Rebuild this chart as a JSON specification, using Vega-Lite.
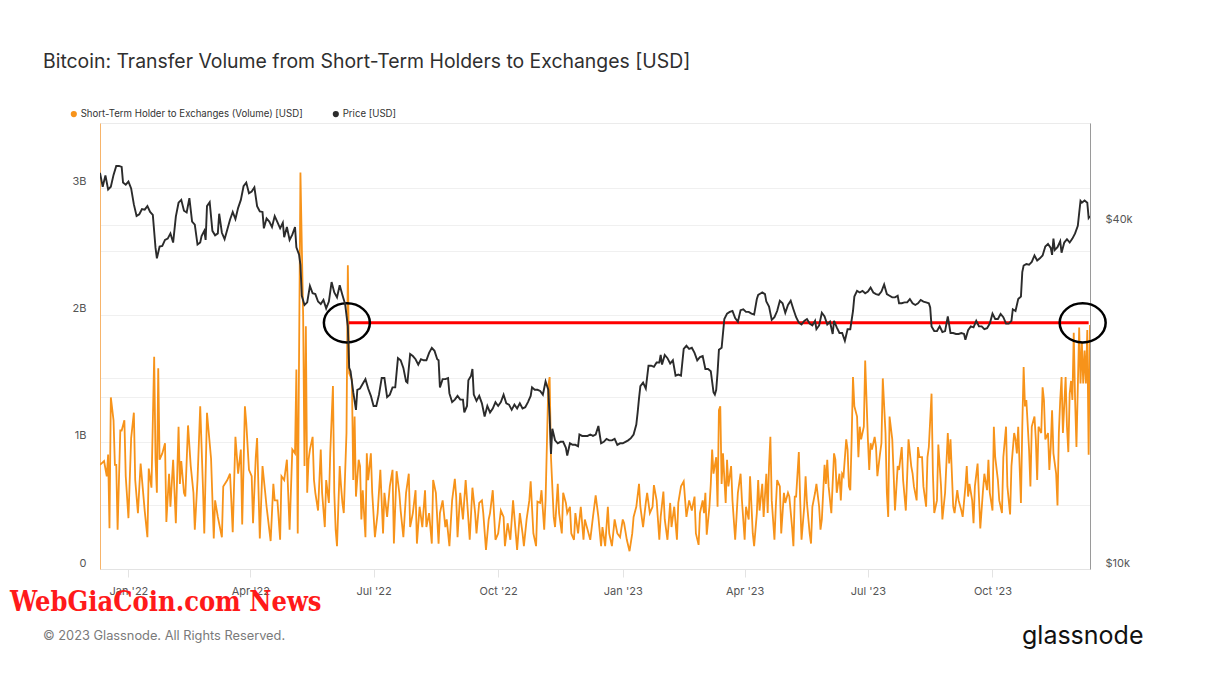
{
"$schema": "https://vega.github.io/schema/vega-lite/v6.json",
"width": 990, "height": 446,
"autosize": "none",
"padding": {"left": 100, "top": 123, "right": 127, "bottom": 115},
"background": "white",
"config": {"view": {"stroke": "#ebebeb"}, "font": "Inter"},
"title": {"text": "Bitcoin: Transfer Volume from Short-Term Holders to Exchanges [USD]", "anchor": "start", "frame": "group", "dx": -57, "offset": 37, "fontSize": 19.4, "fontWeight": 400, "color": "#2f2f2f", "font": "Inter"},
"datasets": {
"vol": [
{"d":"2021-12-11","v":0.82},{"d":"2021-12-12","v":0.83},{"d":"2021-12-14","v":0.85},{"d":"2021-12-16","v":0.73},{"d":"2021-12-17","v":0.90},{"d":"2021-12-18","v":0.32},{"d":"2021-12-19","v":1.35},{"d":"2021-12-21","v":1.17},{"d":"2021-12-22","v":0.82},{"d":"2021-12-23","v":0.82},{"d":"2021-12-24","v":0.31},{"d":"2021-12-26","v":1.09},{"d":"2021-12-27","v":1.09},{"d":"2021-12-29","v":1.17},{"d":"2021-12-30","v":0.73},
{"d":"2022-01-01","v":0.40},{"d":"2022-01-03","v":1.03},{"d":"2022-01-05","v":1.23},{"d":"2022-01-06","v":0.70},{"d":"2022-01-08","v":0.44},{"d":"2022-01-10","v":0.83},{"d":"2022-01-13","v":0.46},{"d":"2022-01-15","v":0.25},{"d":"2022-01-16","v":0.79},{"d":"2022-01-18","v":0.64},{"d":"2022-01-20","v":1.67},{"d":"2022-01-21","v":0.86},{"d":"2022-01-22","v":0.60},{"d":"2022-01-23","v":1.58},{"d":"2022-01-24","v":0.86},{"d":"2022-01-26","v":0.91},{"d":"2022-01-28","v":0.99},{"d":"2022-01-29","v":0.37},{"d":"2022-01-31","v":0.75},
{"d":"2022-02-01","v":0.49},{"d":"2022-02-03","v":0.86},{"d":"2022-02-05","v":0.36},{"d":"2022-02-07","v":1.12},{"d":"2022-02-08","v":0.67},{"d":"2022-02-09","v":0.85},{"d":"2022-02-11","v":0.60},{"d":"2022-02-12","v":0.57},{"d":"2022-02-14","v":1.13},{"d":"2022-02-16","v":0.81},{"d":"2022-02-18","v":0.60},{"d":"2022-02-19","v":0.31},{"d":"2022-02-21","v":0.70},{"d":"2022-02-23","v":1.28},{"d":"2022-02-25","v":0.65},{"d":"2022-02-26","v":0.28},{"d":"2022-02-28","v":1.23},
{"d":"2022-03-02","v":0.99},{"d":"2022-03-03","v":0.87},{"d":"2022-03-05","v":0.24},{"d":"2022-03-06","v":0.54},{"d":"2022-03-08","v":0.41},{"d":"2022-03-11","v":0.25},{"d":"2022-03-12","v":0.65},{"d":"2022-03-15","v":0.70},{"d":"2022-03-17","v":0.75},{"d":"2022-03-18","v":0.53},{"d":"2022-03-19","v":0.29},{"d":"2022-03-21","v":1.04},{"d":"2022-03-23","v":0.75},{"d":"2022-03-25","v":0.94},{"d":"2022-03-26","v":0.35},{"d":"2022-03-28","v":1.28},{"d":"2022-03-29","v":1.15},{"d":"2022-03-31","v":0.78},
{"d":"2022-04-02","v":0.73},{"d":"2022-04-03","v":0.36},{"d":"2022-04-05","v":0.88},{"d":"2022-04-06","v":1.03},{"d":"2022-04-08","v":0.24},{"d":"2022-04-10","v":0.81},{"d":"2022-04-12","v":0.60},{"d":"2022-04-13","v":0.49},{"d":"2022-04-16","v":0.22},{"d":"2022-04-18","v":0.67},{"d":"2022-04-19","v":0.54},{"d":"2022-04-21","v":0.54},{"d":"2022-04-23","v":0.23},{"d":"2022-04-24","v":0.73},{"d":"2022-04-26","v":0.70},{"d":"2022-04-28","v":0.86},{"d":"2022-04-30","v":0.31},
{"d":"2022-05-02","v":0.94},{"d":"2022-05-04","v":0.91},{"d":"2022-05-05","v":1.57},{"d":"2022-05-06","v":0.28},{"d":"2022-05-08","v":3.12},{"d":"2022-05-10","v":1.99},{"d":"2022-05-11","v":0.81},{"d":"2022-05-12","v":1.91},{"d":"2022-05-13","v":0.60},{"d":"2022-05-14","v":0.86},{"d":"2022-05-15","v":0.94},{"d":"2022-05-17","v":1.04},{"d":"2022-05-18","v":0.70},{"d":"2022-05-19","v":0.60},{"d":"2022-05-21","v":0.46},{"d":"2022-05-23","v":0.94},{"d":"2022-05-24","v":0.60},{"d":"2022-05-26","v":0.33},{"d":"2022-05-27","v":0.70},{"d":"2022-05-29","v":0.52},{"d":"2022-05-30","v":0.91},
{"d":"2022-06-01","v":1.44},{"d":"2022-06-02","v":0.60},{"d":"2022-06-03","v":0.31},{"d":"2022-06-04","v":0.18},{"d":"2022-06-06","v":0.81},{"d":"2022-06-07","v":0.65},{"d":"2022-06-08","v":0.52},{"d":"2022-06-09","v":0.44},{"d":"2022-06-11","v":1.07},{"d":"2022-06-12","v":2.39},{"d":"2022-06-13","v":1.54},{"d":"2022-06-15","v":1.49},{"d":"2022-06-16","v":0.70},{"d":"2022-06-17","v":1.20},{"d":"2022-06-18","v":0.57},{"d":"2022-06-20","v":0.86},{"d":"2022-06-21","v":0.81},{"d":"2022-06-22","v":0.39},{"d":"2022-06-23","v":0.62},{"d":"2022-06-25","v":0.25},{"d":"2022-06-26","v":0.91},{"d":"2022-06-27","v":0.70},{"d":"2022-06-29","v":0.91},{"d":"2022-06-30","v":0.60},
{"d":"2022-07-02","v":0.25},{"d":"2022-07-04","v":0.44},{"d":"2022-07-06","v":0.78},{"d":"2022-07-08","v":0.28},{"d":"2022-07-09","v":0.60},{"d":"2022-07-11","v":0.41},{"d":"2022-07-13","v":0.65},{"d":"2022-07-15","v":0.78},{"d":"2022-07-16","v":0.20},{"d":"2022-07-18","v":0.77},{"d":"2022-07-20","v":0.60},{"d":"2022-07-21","v":0.46},{"d":"2022-07-23","v":0.25},{"d":"2022-07-25","v":0.60},{"d":"2022-07-27","v":0.75},{"d":"2022-07-28","v":0.33},{"d":"2022-07-30","v":0.44},
{"d":"2022-08-01","v":0.62},{"d":"2022-08-02","v":0.20},{"d":"2022-08-04","v":0.49},{"d":"2022-08-06","v":0.33},{"d":"2022-08-08","v":0.62},{"d":"2022-08-09","v":0.33},{"d":"2022-08-11","v":0.44},{"d":"2022-08-13","v":0.20},{"d":"2022-08-14","v":0.70},{"d":"2022-08-16","v":0.60},{"d":"2022-08-18","v":0.20},{"d":"2022-08-19","v":0.44},{"d":"2022-08-21","v":0.54},{"d":"2022-08-23","v":0.33},{"d":"2022-08-24","v":0.39},{"d":"2022-08-26","v":0.18},{"d":"2022-08-28","v":0.54},{"d":"2022-08-30","v":0.71},{"d":"2022-08-31","v":0.57},
{"d":"2022-09-01","v":0.25},{"d":"2022-09-03","v":0.60},{"d":"2022-09-05","v":0.39},{"d":"2022-09-07","v":0.70},{"d":"2022-09-09","v":0.39},{"d":"2022-09-10","v":0.23},{"d":"2022-09-12","v":0.64},{"d":"2022-09-14","v":0.44},{"d":"2022-09-15","v":0.28},{"d":"2022-09-17","v":0.52},{"d":"2022-09-19","v":0.54},{"d":"2022-09-20","v":0.44},{"d":"2022-09-22","v":0.15},{"d":"2022-09-24","v":0.39},{"d":"2022-09-25","v":0.44},{"d":"2022-09-27","v":0.62},{"d":"2022-09-29","v":0.23},
{"d":"2022-10-01","v":0.28},{"d":"2022-10-03","v":0.46},{"d":"2022-10-05","v":0.41},{"d":"2022-10-06","v":0.18},{"d":"2022-10-08","v":0.36},{"d":"2022-10-10","v":0.23},{"d":"2022-10-12","v":0.54},{"d":"2022-10-14","v":0.28},{"d":"2022-10-15","v":0.15},{"d":"2022-10-17","v":0.44},{"d":"2022-10-19","v":0.28},{"d":"2022-10-20","v":0.18},{"d":"2022-10-22","v":0.39},{"d":"2022-10-24","v":0.54},{"d":"2022-10-25","v":0.69},{"d":"2022-10-27","v":0.28},{"d":"2022-10-29","v":0.18},{"d":"2022-10-30","v":0.53},
{"d":"2022-11-01","v":0.52},{"d":"2022-11-02","v":0.62},{"d":"2022-11-04","v":0.31},{"d":"2022-11-05","v":0.54},{"d":"2022-11-06","v":0.99},{"d":"2022-11-07","v":1.44},{"d":"2022-11-08","v":1.51},{"d":"2022-11-09","v":0.88},{"d":"2022-11-11","v":0.41},{"d":"2022-11-12","v":0.33},{"d":"2022-11-14","v":0.67},{"d":"2022-11-15","v":0.44},{"d":"2022-11-17","v":0.28},{"d":"2022-11-18","v":0.60},{"d":"2022-11-20","v":0.52},{"d":"2022-11-21","v":0.44},{"d":"2022-11-23","v":0.49},{"d":"2022-11-24","v":0.28},{"d":"2022-11-26","v":0.23},{"d":"2022-11-27","v":0.44},{"d":"2022-11-29","v":0.28},
{"d":"2022-12-01","v":0.49},{"d":"2022-12-03","v":0.23},{"d":"2022-12-04","v":0.39},{"d":"2022-12-06","v":0.31},{"d":"2022-12-08","v":0.23},{"d":"2022-12-10","v":0.41},{"d":"2022-12-12","v":0.58},{"d":"2022-12-14","v":0.41},{"d":"2022-12-16","v":0.18},{"d":"2022-12-17","v":0.33},{"d":"2022-12-19","v":0.18},{"d":"2022-12-21","v":0.49},{"d":"2022-12-22","v":0.28},{"d":"2022-12-24","v":0.18},{"d":"2022-12-26","v":0.39},{"d":"2022-12-28","v":0.28},{"d":"2022-12-30","v":0.25},
{"d":"2023-01-01","v":0.39},{"d":"2023-01-02","v":0.36},{"d":"2023-01-04","v":0.23},{"d":"2023-01-06","v":0.14},{"d":"2023-01-08","v":0.28},{"d":"2023-01-09","v":0.41},{"d":"2023-01-11","v":0.49},{"d":"2023-01-13","v":0.67},{"d":"2023-01-14","v":0.49},{"d":"2023-01-16","v":0.33},{"d":"2023-01-18","v":0.52},{"d":"2023-01-19","v":0.60},{"d":"2023-01-21","v":0.44},{"d":"2023-01-23","v":0.49},{"d":"2023-01-24","v":0.66},{"d":"2023-01-26","v":0.54},{"d":"2023-01-28","v":0.23},{"d":"2023-01-29","v":0.41},{"d":"2023-01-31","v":0.61},
{"d":"2023-02-01","v":0.39},{"d":"2023-02-03","v":0.23},{"d":"2023-02-05","v":0.52},{"d":"2023-02-06","v":0.33},{"d":"2023-02-08","v":0.49},{"d":"2023-02-10","v":0.23},{"d":"2023-02-11","v":0.52},{"d":"2023-02-13","v":0.65},{"d":"2023-02-15","v":0.69},{"d":"2023-02-17","v":0.41},{"d":"2023-02-19","v":0.54},{"d":"2023-02-21","v":0.46},{"d":"2023-02-23","v":0.57},{"d":"2023-02-24","v":0.28},{"d":"2023-02-26","v":0.19},{"d":"2023-02-27","v":0.44},
{"d":"2023-03-01","v":0.54},{"d":"2023-03-02","v":0.44},{"d":"2023-03-03","v":0.60},{"d":"2023-03-04","v":0.27},{"d":"2023-03-06","v":0.49},{"d":"2023-03-07","v":0.67},{"d":"2023-03-08","v":0.94},{"d":"2023-03-09","v":0.75},{"d":"2023-03-11","v":0.88},{"d":"2023-03-12","v":0.49},{"d":"2023-03-13","v":1.25},{"d":"2023-03-14","v":1.28},{"d":"2023-03-15","v":0.67},{"d":"2023-03-16","v":0.91},{"d":"2023-03-18","v":0.52},{"d":"2023-03-19","v":0.86},{"d":"2023-03-20","v":0.65},{"d":"2023-03-22","v":0.81},{"d":"2023-03-23","v":0.54},{"d":"2023-03-25","v":0.23},{"d":"2023-03-26","v":0.41},{"d":"2023-03-27","v":0.60},{"d":"2023-03-29","v":0.75},{"d":"2023-03-30","v":0.54},
{"d":"2023-04-01","v":0.23},{"d":"2023-04-02","v":0.49},{"d":"2023-04-04","v":0.39},{"d":"2023-04-05","v":0.73},{"d":"2023-04-07","v":0.28},{"d":"2023-04-08","v":0.18},{"d":"2023-04-10","v":0.44},{"d":"2023-04-11","v":0.70},{"d":"2023-04-12","v":0.46},{"d":"2023-04-14","v":0.67},{"d":"2023-04-15","v":0.41},{"d":"2023-04-17","v":0.75},{"d":"2023-04-18","v":0.44},{"d":"2023-04-19","v":0.81},{"d":"2023-04-20","v":1.04},{"d":"2023-04-21","v":0.54},{"d":"2023-04-23","v":0.23},{"d":"2023-04-24","v":0.49},{"d":"2023-04-25","v":0.70},{"d":"2023-04-27","v":0.65},{"d":"2023-04-28","v":0.28},{"d":"2023-04-30","v":0.60},
{"d":"2023-05-01","v":0.52},{"d":"2023-05-03","v":0.60},{"d":"2023-05-04","v":0.57},{"d":"2023-05-06","v":0.33},{"d":"2023-05-07","v":0.18},{"d":"2023-05-08","v":0.57},{"d":"2023-05-09","v":0.57},{"d":"2023-05-11","v":0.92},{"d":"2023-05-12","v":0.54},{"d":"2023-05-13","v":0.23},{"d":"2023-05-15","v":0.49},{"d":"2023-05-16","v":0.73},{"d":"2023-05-17","v":0.52},{"d":"2023-05-19","v":0.28},{"d":"2023-05-20","v":0.20},{"d":"2023-05-21","v":0.49},{"d":"2023-05-23","v":0.60},{"d":"2023-05-24","v":0.67},{"d":"2023-05-26","v":0.49},{"d":"2023-05-27","v":0.31},{"d":"2023-05-28","v":0.39},{"d":"2023-05-30","v":0.82},{"d":"2023-05-31","v":0.67},
{"d":"2023-06-01","v":0.86},{"d":"2023-06-02","v":0.65},{"d":"2023-06-04","v":0.44},{"d":"2023-06-06","v":0.91},{"d":"2023-06-07","v":0.86},{"d":"2023-06-08","v":0.60},{"d":"2023-06-10","v":0.75},{"d":"2023-06-11","v":0.54},{"d":"2023-06-12","v":0.75},{"d":"2023-06-13","v":0.73},{"d":"2023-06-15","v":1.02},{"d":"2023-06-16","v":0.94},{"d":"2023-06-17","v":0.65},{"d":"2023-06-18","v":0.62},{"d":"2023-06-19","v":1.02},{"d":"2023-06-20","v":1.51},{"d":"2023-06-21","v":1.28},{"d":"2023-06-23","v":1.20},{"d":"2023-06-24","v":0.88},{"d":"2023-06-25","v":1.12},{"d":"2023-06-26","v":1.02},{"d":"2023-06-28","v":1.12},{"d":"2023-06-29","v":1.64},
{"d":"2023-07-01","v":1.02},{"d":"2023-07-02","v":0.78},{"d":"2023-07-03","v":0.99},{"d":"2023-07-04","v":0.94},{"d":"2023-07-06","v":1.04},{"d":"2023-07-07","v":0.96},{"d":"2023-07-08","v":0.73},{"d":"2023-07-10","v":0.91},{"d":"2023-07-11","v":0.99},{"d":"2023-07-12","v":1.50},{"d":"2023-07-14","v":1.07},{"d":"2023-07-15","v":0.60},{"d":"2023-07-16","v":0.41},{"d":"2023-07-17","v":1.20},{"d":"2023-07-19","v":1.02},{"d":"2023-07-20","v":0.75},{"d":"2023-07-21","v":0.46},{"d":"2023-07-23","v":0.81},{"d":"2023-07-24","v":0.78},{"d":"2023-07-26","v":0.96},{"d":"2023-07-27","v":0.70},{"d":"2023-07-29","v":0.46},{"d":"2023-07-30","v":0.73},{"d":"2023-07-31","v":1.02},
{"d":"2023-08-02","v":0.81},{"d":"2023-08-03","v":0.75},{"d":"2023-08-04","v":0.65},{"d":"2023-08-06","v":0.54},{"d":"2023-08-07","v":0.96},{"d":"2023-08-08","v":0.88},{"d":"2023-08-10","v":0.88},{"d":"2023-08-11","v":0.65},{"d":"2023-08-13","v":0.49},{"d":"2023-08-14","v":0.88},{"d":"2023-08-15","v":0.96},{"d":"2023-08-17","v":1.38},{"d":"2023-08-18","v":0.75},{"d":"2023-08-19","v":0.44},{"d":"2023-08-21","v":0.54},{"d":"2023-08-22","v":0.98},{"d":"2023-08-24","v":0.65},{"d":"2023-08-25","v":0.39},{"d":"2023-08-27","v":0.60},{"d":"2023-08-29","v":1.07},{"d":"2023-08-30","v":0.83},{"d":"2023-08-31","v":1.02},
{"d":"2023-09-02","v":0.49},{"d":"2023-09-03","v":0.44},{"d":"2023-09-05","v":0.62},{"d":"2023-09-06","v":0.54},{"d":"2023-09-08","v":0.46},{"d":"2023-09-09","v":0.41},{"d":"2023-09-11","v":0.65},{"d":"2023-09-12","v":0.81},{"d":"2023-09-13","v":0.57},{"d":"2023-09-14","v":0.67},{"d":"2023-09-16","v":0.54},{"d":"2023-09-17","v":0.36},{"d":"2023-09-18","v":0.65},{"d":"2023-09-20","v":0.83},{"d":"2023-09-21","v":0.57},{"d":"2023-09-22","v":0.32},{"d":"2023-09-24","v":0.62},{"d":"2023-09-25","v":0.75},{"d":"2023-09-27","v":0.62},{"d":"2023-09-28","v":0.86},{"d":"2023-09-29","v":0.60},
{"d":"2023-10-01","v":0.46},{"d":"2023-10-02","v":1.12},{"d":"2023-10-03","v":0.88},{"d":"2023-10-05","v":0.70},{"d":"2023-10-06","v":0.54},{"d":"2023-10-08","v":0.44},{"d":"2023-10-09","v":0.88},{"d":"2023-10-11","v":1.12},{"d":"2023-10-12","v":0.65},{"d":"2023-10-14","v":0.43},{"d":"2023-10-15","v":0.81},{"d":"2023-10-17","v":1.07},{"d":"2023-10-18","v":1.02},{"d":"2023-10-19","v":0.91},{"d":"2023-10-20","v":1.12},{"d":"2023-10-22","v":0.52},{"d":"2023-10-23","v":1.12},{"d":"2023-10-24","v":1.59},{"d":"2023-10-25","v":1.28},{"d":"2023-10-26","v":1.33},{"d":"2023-10-28","v":0.94},{"d":"2023-10-29","v":0.65},{"d":"2023-10-30","v":1.12},
{"d":"2023-11-01","v":1.20},{"d":"2023-11-02","v":1.02},{"d":"2023-11-03","v":0.70},{"d":"2023-11-04","v":1.12},{"d":"2023-11-06","v":1.07},{"d":"2023-11-07","v":1.43},{"d":"2023-11-08","v":1.33},{"d":"2023-11-09","v":1.02},{"d":"2023-11-11","v":1.07},{"d":"2023-11-12","v":0.78},{"d":"2023-11-13","v":0.96},{"d":"2023-11-14","v":1.25},{"d":"2023-11-15","v":0.91},{"d":"2023-11-17","v":0.75},{"d":"2023-11-18","v":0.50},{"d":"2023-11-19","v":1.07},{"d":"2023-11-20","v":1.33},{"d":"2023-11-21","v":1.51},{"d":"2023-11-22","v":1.07},{"d":"2023-11-24","v":1.51},{"d":"2023-11-25","v":1.12},{"d":"2023-11-26","v":0.92},{"d":"2023-11-27","v":1.38},{"d":"2023-11-28","v":1.48},{"d":"2023-11-29","v":1.33},{"d":"2023-11-30","v":1.86},
{"d":"2023-12-01","v":1.33},{"d":"2023-12-02","v":0.96},{"d":"2023-12-04","v":1.90},{"d":"2023-12-05","v":1.46},{"d":"2023-12-06","v":1.78},{"d":"2023-12-07","v":1.46},{"d":"2023-12-08","v":1.72},{"d":"2023-12-09","v":1.46},{"d":"2023-12-10","v":1.88},{"d":"2023-12-11","v":0.90},{"d":"2023-12-12","v":1.92}
],
"price": [
{"d":"2021-12-11","p":49.4},{"d":"2021-12-13","p":46.7},{"d":"2021-12-15","p":48.9},{"d":"2021-12-17","p":46.2},{"d":"2021-12-19","p":46.7},{"d":"2021-12-21","p":49.0},{"d":"2021-12-23","p":50.8},{"d":"2021-12-25","p":50.8},{"d":"2021-12-27","p":50.6},{"d":"2021-12-28","p":47.5},{"d":"2021-12-30","p":47.1},
{"d":"2022-01-01","p":47.7},{"d":"2022-01-03","p":46.4},{"d":"2022-01-05","p":43.5},{"d":"2022-01-07","p":41.5},{"d":"2022-01-09","p":41.8},{"d":"2022-01-11","p":42.7},{"d":"2022-01-13","p":42.6},{"d":"2022-01-15","p":43.2},{"d":"2022-01-17","p":42.2},{"d":"2022-01-19","p":41.7},{"d":"2022-01-21","p":36.5},{"d":"2022-01-22","p":35.0},{"d":"2022-01-24","p":36.7},{"d":"2022-01-26","p":36.8},{"d":"2022-01-28","p":37.7},{"d":"2022-01-30","p":37.9},
{"d":"2022-02-01","p":38.7},{"d":"2022-02-03","p":37.3},{"d":"2022-02-05","p":41.4},{"d":"2022-02-07","p":43.8},{"d":"2022-02-09","p":44.3},{"d":"2022-02-11","p":42.4},{"d":"2022-02-13","p":42.1},{"d":"2022-02-15","p":44.6},{"d":"2022-02-17","p":40.6},{"d":"2022-02-19","p":40.1},{"d":"2022-02-21","p":37.0},{"d":"2022-02-23","p":37.3},{"d":"2022-02-24","p":38.3},{"d":"2022-02-26","p":39.1},{"d":"2022-02-27","p":37.7},{"d":"2022-02-28","p":43.2},
{"d":"2022-03-02","p":43.9},{"d":"2022-03-04","p":39.1},{"d":"2022-03-06","p":38.4},{"d":"2022-03-08","p":38.7},{"d":"2022-03-09","p":41.9},{"d":"2022-03-11","p":38.8},{"d":"2022-03-13","p":37.8},{"d":"2022-03-15","p":39.3},{"d":"2022-03-17","p":40.9},{"d":"2022-03-19","p":42.2},{"d":"2022-03-21","p":41.0},{"d":"2022-03-23","p":42.9},{"d":"2022-03-25","p":44.3},{"d":"2022-03-27","p":46.8},{"d":"2022-03-29","p":47.5},{"d":"2022-03-31","p":45.5},
{"d":"2022-04-02","p":45.8},{"d":"2022-04-04","p":46.6},{"d":"2022-04-06","p":43.2},{"d":"2022-04-08","p":42.3},{"d":"2022-04-10","p":42.2},{"d":"2022-04-11","p":39.5},{"d":"2022-04-13","p":41.1},{"d":"2022-04-15","p":40.6},{"d":"2022-04-17","p":39.7},{"d":"2022-04-19","p":41.5},{"d":"2022-04-21","p":40.5},{"d":"2022-04-23","p":39.5},{"d":"2022-04-25","p":40.4},{"d":"2022-04-26","p":38.1},{"d":"2022-04-28","p":39.7},{"d":"2022-04-30","p":37.7},
{"d":"2022-05-02","p":38.5},{"d":"2022-05-04","p":39.7},{"d":"2022-05-05","p":36.6},{"d":"2022-05-07","p":35.5},{"d":"2022-05-08","p":34.1},{"d":"2022-05-09","p":30.1},{"d":"2022-05-11","p":29.0},{"d":"2022-05-13","p":29.3},{"d":"2022-05-15","p":31.3},{"d":"2022-05-17","p":30.4},{"d":"2022-05-19","p":30.3},{"d":"2022-05-21","p":29.4},{"d":"2022-05-23","p":29.1},{"d":"2022-05-25","p":29.6},{"d":"2022-05-27","p":28.6},{"d":"2022-05-29","p":29.4},{"d":"2022-05-31","p":31.8},
{"d":"2022-06-02","p":30.5},{"d":"2022-06-04","p":29.9},{"d":"2022-06-06","p":31.4},{"d":"2022-06-08","p":30.2},{"d":"2022-06-10","p":29.1},{"d":"2022-06-12","p":26.6},{"d":"2022-06-13","p":22.5},{"d":"2022-06-14","p":22.2},{"d":"2022-06-16","p":20.4},{"d":"2022-06-18","p":19.0},{"d":"2022-06-19","p":20.6},{"d":"2022-06-21","p":20.7},{"d":"2022-06-23","p":21.1},{"d":"2022-06-25","p":21.5},{"d":"2022-06-27","p":20.7},{"d":"2022-06-29","p":20.1},
{"d":"2022-07-01","p":19.3},{"d":"2022-07-03","p":19.3},{"d":"2022-07-05","p":20.2},{"d":"2022-07-07","p":21.6},{"d":"2022-07-09","p":21.6},{"d":"2022-07-11","p":20.0},{"d":"2022-07-13","p":20.2},{"d":"2022-07-15","p":20.8},{"d":"2022-07-17","p":20.8},{"d":"2022-07-19","p":23.4},{"d":"2022-07-21","p":23.2},{"d":"2022-07-23","p":22.5},{"d":"2022-07-25","p":21.3},{"d":"2022-07-26","p":21.2},{"d":"2022-07-28","p":23.8},{"d":"2022-07-30","p":23.6},
{"d":"2022-08-01","p":23.3},{"d":"2022-08-03","p":22.8},{"d":"2022-08-05","p":23.3},{"d":"2022-08-07","p":23.2},{"d":"2022-08-09","p":23.2},{"d":"2022-08-11","p":23.9},{"d":"2022-08-13","p":24.4},{"d":"2022-08-15","p":24.1},{"d":"2022-08-17","p":23.3},{"d":"2022-08-18","p":23.2},{"d":"2022-08-19","p":20.8},{"d":"2022-08-21","p":21.5},{"d":"2022-08-23","p":21.5},{"d":"2022-08-25","p":21.6},{"d":"2022-08-26","p":20.3},{"d":"2022-08-28","p":19.6},{"d":"2022-08-30","p":19.8},
{"d":"2022-09-01","p":20.1},{"d":"2022-09-03","p":19.8},{"d":"2022-09-05","p":19.8},{"d":"2022-09-06","p":18.8},{"d":"2022-09-08","p":19.3},{"d":"2022-09-09","p":21.4},{"d":"2022-09-11","p":21.8},{"d":"2022-09-12","p":22.4},{"d":"2022-09-13","p":20.2},{"d":"2022-09-15","p":19.7},{"d":"2022-09-17","p":20.1},{"d":"2022-09-19","p":19.5},{"d":"2022-09-21","p":18.5},{"d":"2022-09-23","p":19.3},{"d":"2022-09-25","p":18.8},{"d":"2022-09-27","p":19.1},{"d":"2022-09-29","p":19.6},
{"d":"2022-10-01","p":19.3},{"d":"2022-10-03","p":19.6},{"d":"2022-10-05","p":20.2},{"d":"2022-10-07","p":19.5},{"d":"2022-10-09","p":19.4},{"d":"2022-10-11","p":19.0},{"d":"2022-10-13","p":19.4},{"d":"2022-10-15","p":19.1},{"d":"2022-10-17","p":19.5},{"d":"2022-10-19","p":19.1},{"d":"2022-10-21","p":19.2},{"d":"2022-10-23","p":19.6},{"d":"2022-10-25","p":20.1},{"d":"2022-10-26","p":20.8},{"d":"2022-10-28","p":20.6},{"d":"2022-10-30","p":20.6},
{"d":"2022-11-01","p":20.5},{"d":"2022-11-03","p":20.2},{"d":"2022-11-05","p":21.3},{"d":"2022-11-07","p":20.6},{"d":"2022-11-08","p":18.5},{"d":"2022-11-09","p":15.9},{"d":"2022-11-10","p":17.6},{"d":"2022-11-12","p":16.8},{"d":"2022-11-14","p":16.6},{"d":"2022-11-16","p":16.7},{"d":"2022-11-18","p":16.7},{"d":"2022-11-20","p":16.3},{"d":"2022-11-21","p":15.8},{"d":"2022-11-23","p":16.6},{"d":"2022-11-25","p":16.5},{"d":"2022-11-27","p":16.5},{"d":"2022-11-29","p":16.4},{"d":"2022-11-30","p":17.2},
{"d":"2022-12-02","p":17.1},{"d":"2022-12-04","p":17.1},{"d":"2022-12-06","p":17.1},{"d":"2022-12-08","p":17.2},{"d":"2022-12-10","p":17.1},{"d":"2022-12-12","p":17.2},{"d":"2022-12-14","p":17.8},{"d":"2022-12-16","p":16.6},{"d":"2022-12-18","p":16.7},{"d":"2022-12-20","p":16.9},{"d":"2022-12-22","p":16.8},{"d":"2022-12-24","p":16.8},{"d":"2022-12-26","p":16.9},{"d":"2022-12-28","p":16.5},{"d":"2022-12-30","p":16.6},
{"d":"2023-01-01","p":16.6},{"d":"2023-01-03","p":16.7},{"d":"2023-01-05","p":16.8},{"d":"2023-01-07","p":16.95},{"d":"2023-01-09","p":17.2},{"d":"2023-01-11","p":17.9},{"d":"2023-01-12","p":18.8},{"d":"2023-01-13","p":19.9},{"d":"2023-01-14","p":20.9},{"d":"2023-01-16","p":21.2},{"d":"2023-01-18","p":20.7},{"d":"2023-01-20","p":22.7},{"d":"2023-01-22","p":22.7},{"d":"2023-01-24","p":22.6},{"d":"2023-01-26","p":23.0},{"d":"2023-01-28","p":23.0},{"d":"2023-01-29","p":23.7},{"d":"2023-01-30","p":22.8},
{"d":"2023-02-01","p":23.7},{"d":"2023-02-03","p":23.4},{"d":"2023-02-05","p":22.9},{"d":"2023-02-07","p":23.2},{"d":"2023-02-09","p":21.8},{"d":"2023-02-11","p":21.9},{"d":"2023-02-13","p":21.8},{"d":"2023-02-15","p":24.3},{"d":"2023-02-17","p":24.6},{"d":"2023-02-19","p":24.3},{"d":"2023-02-21","p":24.4},{"d":"2023-02-23","p":23.9},{"d":"2023-02-25","p":23.2},{"d":"2023-02-27","p":23.5},
{"d":"2023-03-01","p":23.6},{"d":"2023-03-03","p":22.4},{"d":"2023-03-05","p":22.4},{"d":"2023-03-07","p":22.2},{"d":"2023-03-09","p":20.4},{"d":"2023-03-10","p":20.2},{"d":"2023-03-11","p":20.6},{"d":"2023-03-12","p":22.1},{"d":"2023-03-13","p":24.2},{"d":"2023-03-15","p":24.4},{"d":"2023-03-17","p":27.4},{"d":"2023-03-19","p":28.0},{"d":"2023-03-21","p":28.2},{"d":"2023-03-23","p":28.3},{"d":"2023-03-25","p":27.5},{"d":"2023-03-27","p":27.1},{"d":"2023-03-29","p":28.4},{"d":"2023-03-31","p":28.5},
{"d":"2023-04-02","p":28.2},{"d":"2023-04-04","p":28.2},{"d":"2023-04-06","p":28.0},{"d":"2023-04-08","p":27.9},{"d":"2023-04-10","p":29.7},{"d":"2023-04-11","p":30.2},{"d":"2023-04-13","p":30.4},{"d":"2023-04-14","p":30.5},{"d":"2023-04-16","p":30.3},{"d":"2023-04-17","p":29.4},{"d":"2023-04-19","p":28.8},{"d":"2023-04-21","p":27.3},{"d":"2023-04-23","p":27.6},{"d":"2023-04-25","p":28.3},{"d":"2023-04-27","p":29.5},{"d":"2023-04-29","p":29.2},
{"d":"2023-05-01","p":28.1},{"d":"2023-05-03","p":29.0},{"d":"2023-05-05","p":29.5},{"d":"2023-05-07","p":28.5},{"d":"2023-05-09","p":27.6},{"d":"2023-05-11","p":27.0},{"d":"2023-05-13","p":26.8},{"d":"2023-05-15","p":27.2},{"d":"2023-05-17","p":27.4},{"d":"2023-05-19","p":26.9},{"d":"2023-05-21","p":26.7},{"d":"2023-05-23","p":27.2},{"d":"2023-05-24","p":26.3},{"d":"2023-05-26","p":26.7},{"d":"2023-05-28","p":28.1},{"d":"2023-05-30","p":27.7},
{"d":"2023-06-01","p":26.8},{"d":"2023-06-03","p":27.1},{"d":"2023-06-05","p":25.8},{"d":"2023-06-06","p":27.2},{"d":"2023-06-08","p":26.5},{"d":"2023-06-10","p":25.9},{"d":"2023-06-12","p":25.9},{"d":"2023-06-14","p":25.1},{"d":"2023-06-16","p":26.3},{"d":"2023-06-18","p":26.3},{"d":"2023-06-20","p":28.3},{"d":"2023-06-21","p":30.0},{"d":"2023-06-23","p":30.7},{"d":"2023-06-25","p":30.5},{"d":"2023-06-27","p":30.7},{"d":"2023-06-29","p":30.4},
{"d":"2023-07-01","p":30.6},{"d":"2023-07-03","p":31.1},{"d":"2023-07-05","p":30.5},{"d":"2023-07-07","p":30.3},{"d":"2023-07-09","p":30.2},{"d":"2023-07-11","p":30.6},{"d":"2023-07-13","p":31.5},{"d":"2023-07-15","p":30.3},{"d":"2023-07-17","p":30.1},{"d":"2023-07-19","p":29.9},{"d":"2023-07-21","p":29.9},{"d":"2023-07-23","p":30.1},{"d":"2023-07-24","p":29.2},{"d":"2023-07-26","p":29.2},{"d":"2023-07-28","p":29.3},{"d":"2023-07-30","p":29.3},
{"d":"2023-08-01","p":29.7},{"d":"2023-08-03","p":29.2},{"d":"2023-08-05","p":29.0},{"d":"2023-08-07","p":29.2},{"d":"2023-08-09","p":29.6},{"d":"2023-08-11","p":29.4},{"d":"2023-08-13","p":29.3},{"d":"2023-08-15","p":29.2},{"d":"2023-08-16","p":28.7},{"d":"2023-08-17","p":26.6},{"d":"2023-08-19","p":26.1},{"d":"2023-08-21","p":26.1},{"d":"2023-08-23","p":26.6},{"d":"2023-08-25","p":26.0},{"d":"2023-08-27","p":26.1},{"d":"2023-08-29","p":27.7},{"d":"2023-08-31","p":25.9},
{"d":"2023-09-02","p":25.9},{"d":"2023-09-04","p":25.8},{"d":"2023-09-06","p":25.8},{"d":"2023-09-08","p":25.9},{"d":"2023-09-10","p":25.8},{"d":"2023-09-11","p":25.2},{"d":"2023-09-13","p":26.2},{"d":"2023-09-15","p":26.6},{"d":"2023-09-17","p":26.5},{"d":"2023-09-19","p":27.2},{"d":"2023-09-21","p":26.6},{"d":"2023-09-23","p":26.6},{"d":"2023-09-25","p":26.3},{"d":"2023-09-27","p":26.4},{"d":"2023-09-29","p":26.9},
{"d":"2023-10-01","p":28.0},{"d":"2023-10-03","p":27.4},{"d":"2023-10-05","p":27.4},{"d":"2023-10-07","p":27.96},{"d":"2023-10-09","p":27.6},{"d":"2023-10-11","p":26.9},{"d":"2023-10-13","p":26.9},{"d":"2023-10-15","p":27.2},{"d":"2023-10-16","p":28.5},{"d":"2023-10-18","p":28.3},{"d":"2023-10-20","p":29.7},{"d":"2023-10-22","p":30.0},{"d":"2023-10-23","p":33.1},{"d":"2023-10-24","p":34.0},{"d":"2023-10-26","p":34.2},{"d":"2023-10-28","p":34.1},{"d":"2023-10-30","p":34.5},
{"d":"2023-11-01","p":35.4},{"d":"2023-11-03","p":34.7},{"d":"2023-11-05","p":35.0},{"d":"2023-11-07","p":35.4},{"d":"2023-11-09","p":36.7},{"d":"2023-11-11","p":37.1},{"d":"2023-11-13","p":36.5},{"d":"2023-11-14","p":35.5},{"d":"2023-11-15","p":37.9},{"d":"2023-11-16","p":36.2},{"d":"2023-11-18","p":36.6},{"d":"2023-11-20","p":37.5},{"d":"2023-11-21","p":35.8},{"d":"2023-11-23","p":37.3},{"d":"2023-11-25","p":37.8},{"d":"2023-11-27","p":37.3},{"d":"2023-11-29","p":37.9},
{"d":"2023-12-01","p":38.7},{"d":"2023-12-03","p":39.9},{"d":"2023-12-04","p":42.0},{"d":"2023-12-05","p":44.1},{"d":"2023-12-06","p":43.8},{"d":"2023-12-08","p":44.2},{"d":"2023-12-10","p":43.8},{"d":"2023-12-11","p":41.2},{"d":"2023-12-12","p":41.5}
]
},
"encoding": {
  "x": {"field": "d", "type": "temporal",
    "scale": {"domain": [{"year": 2021, "month": 12, "date": 11, "utc": true}, {"year": 2023, "month": 12, "date": 12, "utc": true}]},
    "axis": {"title": null, "format": "%b '%y", "tickCount": {"interval": "month", "step": 3}, "grid": false, "domainColor": "#e3e3e3", "tickColor": "#e3e3e3", "tickSize": 8, "labelPadding": 8, "labelFontSize": 11, "labelColor": "#555555", "labelFlush": false, "labelFont": "Inter"}}
},
"layer": [
  {
    "encoding": {
      "y": {"field": "v", "type": "quantitative",
        "scale": {"domain": [0, 3.51], "nice": false},
        "axis": {"title": null, "values": [0, 0.5, 1, 1.5, 2, 2.5, 3], "labelExpr": "datum.value == 0 ? '0' : (datum.value % 1 == 0 ? datum.value + 'B' : '')", "grid": true, "gridColor": "#f0f0f0", "domainColor": "#f7b46a", "ticks": false, "labelPadding": 14, "labelOffset": -6, "labelFontSize": 11, "labelColor": "#555555", "labelFont": "Inter"}}
    },
    "layer": [
      {
        "data": {"name": "vol"},
        "mark": {"type": "line", "strokeWidth": 1.8, "clip": true},
        "encoding": {
          "color": {"datum": "Short-Term Holder to Exchanges (Volume) [USD]", "type": "nominal",
            "scale": {"domain": ["Short-Term Holder to Exchanges (Volume) [USD]", "Price [USD]"], "range": ["#f7931a", "#2b2b2b"]},
            "legend": {"orient": "none", "legendX": -31, "legendY": -14, "direction": "horizontal", "title": null, "symbolType": "circle", "symbolSize": 10, "symbolStrokeWidth": 3, "labelFontSize": 9.65, "labelLimit": 400, "labelColor": "#333333", "labelFont": "Inter", "columnPadding": 25, "labelOffset": 2, "padding": 0}}
        }
      },
      {
        "data": {"values": [{"d": "2022-06-12T19:00:00Z", "d2": "2023-12-11T00:00:00Z", "v": 1.937}]},
        "mark": {"type": "rule", "color": "#ff0000", "strokeWidth": 3},
        "encoding": {"x2": {"field": "d2"}}
      },
      {
        "data": {"values": [{"d": "2022-06-11T07:00:00Z", "v": 1.937}, {"d": "2023-12-06T14:00:00Z", "v": 1.937}]},
        "mark": {"type": "point", "shape": "M 1 0 C 1 0.4683 0.5523 0.848 0 0.848 C -0.5523 0.848 -1 0.4683 -1 0 C -1 -0.4683 -0.5523 -0.848 0 -0.848 C 0.5523 -0.848 1 -0.4683 1 0 Z", "size": 2116, "filled": false, "stroke": "#000000", "strokeWidth": 2.5, "opacity": 1}
      }
    ]
  },
  {
    "data": {"name": "price"},
    "mark": {"type": "line", "strokeWidth": 1.9, "clip": true},
    "encoding": {
      "y": {"field": "p", "type": "quantitative",
        "scale": {"type": "log", "domain": [10, 60.4], "nice": false},
        "axis": {"orient": "right", "title": null, "values": [10, 20, 40], "labelExpr": "datum.value == 10 ? '$10k' : (datum.value == 40 ? '$40k' : '')", "grid": true, "gridColor": "#f0f0f0", "domainColor": "#9a9a9a", "ticks": false, "labelPadding": 15, "labelOffset": -6, "labelFontSize": 11, "labelColor": "#555555", "labelFont": "Inter"}},
      "color": {"datum": "Price [USD]", "type": "nominal"}
    }
  },
  {
    "data": {"values": [{"t": "© 2023 Glassnode. All Rights Reserved."}]},
    "mark": {"type": "text", "align": "left", "baseline": "middle", "fontSize": 12.8, "color": "#7a7a7a", "font": "Inter"},
    "encoding": {"x": {"value": -57}, "y": {"value": 513}, "text": {"field": "t"}}
  },
  {
    "data": {"values": [{"t": "glassnode"}]},
    "mark": {"type": "text", "align": "left", "baseline": "middle", "fontSize": 25, "color": "#111111", "font": "Inter", "fontWeight": 400},
    "encoding": {"x": {"value": 922}, "y": {"value": 513}, "text": {"field": "t"}}
  },
  {
    "data": {"values": [{"t": "WebGiaCoin.com News"}]},
    "mark": {"type": "text", "align": "left", "baseline": "middle", "fontSize": 27, "color": "#ff1a1a", "font": "DejaVu Serif Condensed", "fontWeight": "bold"},
    "encoding": {"x": {"value": -90}, "y": {"value": 480}, "text": {"field": "t"}}
  }
],
"resolve": {"scale": {"y": "independent"}}
}
